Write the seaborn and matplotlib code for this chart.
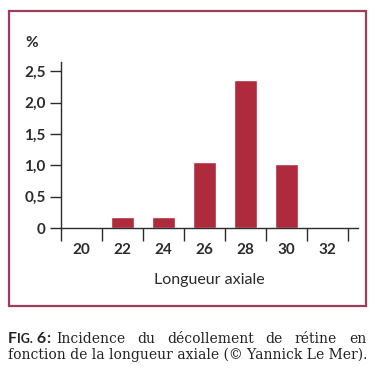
import matplotlib
matplotlib.use("Agg")
import matplotlib.pyplot as plt
from matplotlib.patches import Rectangle
import seaborn as sns

# longueur axiale (mm) and incidence of retinal detachment (%)
lengths = ["20", "22", "24", "26", "28", "30", "32"]
incidence = [0, 0.18, 0.18, 1.05, 2.36, 1.02, 0]
ytick_vals = [0, 0.5, 1.0, 1.5, 2.0, 2.5]
ytick_labels = ["0", "0,5", "1,0", "1,5", "2,0", "2,5"]

caption1 = "Incidence du décollement de rétine en"
caption2 = "fonction de la longueur axiale (© Yannick Le Mer)."

W, H = 378, 382
sns.set_style("white")
plt.rcParams["font.family"] = ["Lato", "DejaVu Sans"]

fig = plt.figure(figsize=(W / 100, H / 100), dpi=100)
ax = fig.add_axes([61 / W, 1 - 228 / H, (358 - 61) / W, (228 - 62) / H])

sns.barplot(x=lengths, y=incidence, color="#b02a3d", saturation=1,
            width=0.56, ax=ax)

ink = "#2b2b2b"
ax.set_xlim(-0.5, 6.75)
ax.set_ylim(0, 2.65)
for s in ["top", "right"]:
    ax.spines[s].set_visible(False)
for s in ["left", "bottom"]:
    ax.spines[s].set_color(ink)
    ax.spines[s].set_linewidth(1.0)

# x: ticks at bin edges, labels centred in bins
n = len(lengths)
ax.set_xticks([i - 0.5 for i in range(n + 1)])
ax.set_xticklabels([])
ax.set_xticks(range(n), minor=True)
ax.set_xticklabels(lengths, minor=True, fontsize=11, fontweight="bold",
                   color=ink)
ax.tick_params(axis="x", which="major", bottom=True, direction="out",
               length=9, width=1.0, color=ink)
ax.tick_params(axis="x", which="minor", bottom=True, length=0, pad=11)

ax.set_yticks(ytick_vals)
ax.set_yticklabels(ytick_labels, fontsize=11, fontweight="bold", color=ink)
ax.tick_params(axis="y", left=True, direction="out", length=8, width=1.0,
               color=ink, pad=3)

ax.set_xlabel("Longueur axiale", fontsize=11.5, color=ink, labelpad=11)
ax.set_ylabel("")
fig.text(32 / W, 1 - 43 / H, "%", fontsize=11, fontweight="bold",
         color=ink, ha="center", va="center")

# frame around the figure
fig.patches.append(Rectangle((9 / W, 1 - 306 / H), (366 - 9) / W,
                             (306 - 11) / H, transform=fig.transFigure,
                             fill=False, edgecolor="#9c3d5a", linewidth=1.6))

# caption: small-caps style label then justified first line
renderer = fig.canvas.get_renderer()
cap_col = "#222222"
y1 = 1 - 343 / H
y2 = 1 - 359 / H


def width_px(t):
    return t.get_window_extent(renderer).width


x = 8.0
for piece, size in [("F", 11.5), ("IG.", 9), (" 6", 11.5), (":", 11.5)]:
    t = fig.text(x / W, y1, piece, fontsize=size, fontweight="bold",
                 color=cap_col, va="baseline")
    x += width_px(t)

words = caption1.split()
texts = [fig.text(0, y1, w, fontsize=10, color=cap_col,
                  family="DejaVu Serif", va="baseline") for w in words]
start, end = x + 6, 366.0
total = sum(width_px(t) for t in texts)
gap = (end - start - total) / (len(texts) - 1)
x = start
for t in texts:
    t.set_x(x / W)
    x += width_px(t) + gap

fig.text(8 / W, y2, caption2, fontsize=10, color=cap_col,
         family="DejaVu Serif", va="baseline")

fig.savefig("out.png", dpi=100)
